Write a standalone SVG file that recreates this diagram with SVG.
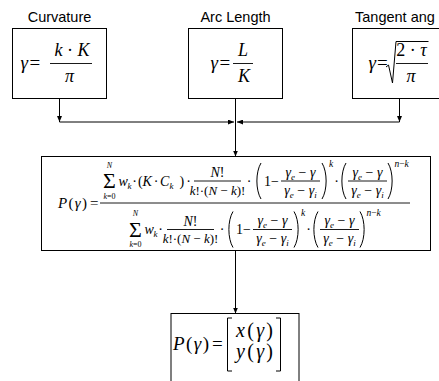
<svg xmlns="http://www.w3.org/2000/svg" width="439" height="381" viewBox="0 0 439 381">
<style>
.box{fill:#fff;stroke:#000;stroke-width:1}
.lbl{font-family:"Liberation Sans",Arial,sans-serif;font-size:14.5px;fill:#000}
.m{font-family:"Liberation Serif","DejaVu Serif",serif;font-style:italic;fill:#000}
.u{font-family:"Liberation Serif","DejaVu Serif",serif;font-style:normal;fill:#000}
.n{font-style:normal}
.bar{stroke:#000;stroke-width:0.9}
.dl{fill:none;stroke:#000;stroke-width:1}
.con{fill:none;stroke:#000;stroke-width:1}
</style>
<defs>
<marker id="arr" markerUnits="userSpaceOnUse" markerWidth="6" markerHeight="5" refX="6" refY="2.5" orient="auto">
<path d="M0,0 L6,2.5 L0,5 z" fill="#000"/>
</marker>
</defs>
<rect width="439" height="381" fill="#fff"/>

<g id="connectors">
<path class="con" d="M59.5,98.5 V122" marker-end="url(#arr)"/>
<path class="con" d="M59.5,122 H234" marker-end="url(#arr)"/>
<path class="con" d="M399.5,98.5 V122" marker-end="url(#arr)"/>
<path class="con" d="M399.5,122 H237" marker-end="url(#arr)"/>
<path class="con" d="M235.5,98.5 V156.5" marker-end="url(#arr)"/>
<path class="con" d="M235.5,250.5 V313.5" marker-end="url(#arr)"/>
</g>

<g id="curvature">
<text class="lbl" x="59.5" y="22" text-anchor="middle">Curvature</text>
<rect class="box" x="12.5" y="28.5" width="94" height="70"/>
<text class="m" x="20.5" y="68.5" font-size="19">γ</text>
<text class="u" x="29.5" y="68.5" font-size="19">=</text>
<text class="m" x="72" y="56" font-size="18" text-anchor="middle">k<tspan class="n"> · </tspan>K</text>
<line class="bar" x1="50" y1="63.5" x2="92" y2="63.5"/>
<text class="m" x="69.5" y="81.5" font-size="18" text-anchor="middle">π</text>
</g>

<g id="arclength">
<text class="lbl" x="235.5" y="22" text-anchor="middle">Arc Length</text>
<rect class="box" x="188.5" y="28.5" width="94" height="70"/>
<text class="m" x="210.5" y="68.5" font-size="19">γ</text>
<text class="u" x="219.5" y="68.5" font-size="19">=</text>
<text class="m" x="243" y="56" font-size="18" text-anchor="middle">L</text>
<line class="bar" x1="233" y1="63.5" x2="253" y2="63.5"/>
<text class="m" x="244" y="81.5" font-size="18" text-anchor="middle">K</text>
</g>

<g id="tangent">
<text class="lbl" x="355" y="22">Tangent ang</text>
<rect class="box" x="352.5" y="28.5" width="94" height="70"/>
<text class="m" x="368.5" y="68.5" font-size="19">γ</text>
<text class="u" x="377" y="68.5" font-size="19">=</text>
<path class="dl" d="M386,67 L388.5,65 L392.5,83 L396,41.5 H428.5" stroke-width="1.1"/>
<text class="m" x="411.5" y="56" font-size="18" text-anchor="middle"><tspan class="n">2 · </tspan>τ</text>
<line class="bar" x1="396" y1="63.5" x2="428" y2="63.5"/>
<text class="m" x="411" y="81.5" font-size="18" text-anchor="middle">π</text>
</g>

<g id="bernstein">
<rect class="box" x="41.5" y="156.5" width="389" height="94"/>
<text class="m" x="58" y="207.5" font-size="15" textLength="29" lengthAdjust="spacing">P<tspan class="n">(</tspan>γ<tspan class="n">)</tspan></text>
<text class="u" x="90" y="207.5" font-size="15">=</text>
<line class="bar" x1="100" y1="203" x2="410" y2="203"/>

<text class="u" x="109.5" y="188" font-size="22" text-anchor="middle">Σ</text>
<text class="m" x="109.5" y="167.5" font-size="8" text-anchor="middle">N</text>
<text class="m" x="109.5" y="198.5" font-size="8" text-anchor="middle">k<tspan class="n">=0</tspan></text>
<text class="m" x="118.5" y="185.5" font-size="14">w</text>
<text class="m" x="127.5" y="188.5" font-size="9">k</text>
<text class="u" x="134.5" y="185.5" font-size="14" text-anchor="middle">·</text>
<text class="u" x="138" y="185.5" font-size="14">(</text>
<text class="m" x="142.5" y="185.5" font-size="14">K</text>
<text class="u" x="156" y="185.5" font-size="14" text-anchor="middle">·</text>
<text class="m" x="160" y="185.5" font-size="14">C</text>
<text class="m" x="169.5" y="188.5" font-size="9">k</text>
<text class="u" x="179.5" y="185.5" font-size="14">)</text>
<text class="u" x="188.5" y="185.5" font-size="14" text-anchor="middle">·</text>
<text class="m" x="217.5" y="177" font-size="14" text-anchor="middle">N<tspan class="n">!</tspan></text>
<line class="bar" x1="194" y1="181" x2="241" y2="181"/>
<text class="m" x="217.5" y="194.5" font-size="13" text-anchor="middle">k<tspan class="n">!·(</tspan>N<tspan class="n"> − </tspan>k<tspan class="n">)!</tspan></text>
<text class="u" x="249" y="185.5" font-size="14" text-anchor="middle">·</text>
<path class="dl" d="M261,163 C255.5,172 255.5,190 261,199"/>
<text class="u" x="264" y="185.5" font-size="14">1</text>
<text class="u" x="271" y="185.5" font-size="14">−</text>
<text class="m" x="300.5" y="176.5" font-size="14" text-anchor="middle">γ<tspan font-size="9" dy="3">e</tspan><tspan class="n" dy="-3"> − </tspan>γ</text>
<line class="bar" x1="281" y1="181" x2="320" y2="181"/>
<text class="m" x="300.5" y="194.5" font-size="14" text-anchor="middle">γ<tspan font-size="9" dy="3">e</tspan><tspan class="n" dy="-3"> − </tspan>γ<tspan font-size="9" dy="3">i</tspan></text>
<path class="dl" d="M322,163 C327.5,172 327.5,190 322,199"/>
<text class="m" x="329" y="167" font-size="9.5">k</text>
<text class="u" x="336.5" y="185.5" font-size="14" text-anchor="middle">·</text>
<path class="dl" d="M346,163 C340.5,172 340.5,190 346,199"/>
<text class="m" x="367.5" y="176.5" font-size="14" text-anchor="middle">γ<tspan font-size="9" dy="3">e</tspan><tspan class="n" dy="-3"> − </tspan>γ</text>
<line class="bar" x1="348" y1="181" x2="387" y2="181"/>
<text class="m" x="367.5" y="194.5" font-size="14" text-anchor="middle">γ<tspan font-size="9" dy="3">e</tspan><tspan class="n" dy="-3"> − </tspan>γ<tspan font-size="9" dy="3">i</tspan></text>
<path class="dl" d="M388,163 C393.5,172 393.5,190 388,199"/>
<text class="m" x="394.5" y="167" font-size="9.5">n<tspan class="n">−</tspan>k</text>

<text class="u" x="135.5" y="236.5" font-size="22" text-anchor="middle">Σ</text>
<text class="m" x="135.5" y="216" font-size="8" text-anchor="middle">N</text>
<text class="m" x="135.5" y="247" font-size="8" text-anchor="middle">k<tspan class="n">=0</tspan></text>
<text class="m" x="144.5" y="234" font-size="14">w</text>
<text class="m" x="153.5" y="237" font-size="9">k</text>
<text class="u" x="160.5" y="234" font-size="14" text-anchor="middle">·</text>
<text class="m" x="190.5" y="225.5" font-size="14" text-anchor="middle">N<tspan class="n">!</tspan></text>
<line class="bar" x1="167" y1="229.5" x2="214" y2="229.5"/>
<text class="m" x="190.5" y="243" font-size="13" text-anchor="middle">k<tspan class="n">!·(</tspan>N<tspan class="n"> − </tspan>k<tspan class="n">)!</tspan></text>
<text class="u" x="222" y="234" font-size="14" text-anchor="middle">·</text>
<path class="dl" d="M233,211.5 C227.5,220.5 227.5,238.5 233,247.5"/>
<text class="u" x="236" y="234" font-size="14">1</text>
<text class="u" x="243" y="234" font-size="14">−</text>
<text class="m" x="272.5" y="225" font-size="14" text-anchor="middle">γ<tspan font-size="9" dy="3">e</tspan><tspan class="n" dy="-3"> − </tspan>γ</text>
<line class="bar" x1="253" y1="229.5" x2="292" y2="229.5"/>
<text class="m" x="272.5" y="243" font-size="14" text-anchor="middle">γ<tspan font-size="9" dy="3">e</tspan><tspan class="n" dy="-3"> − </tspan>γ<tspan font-size="9" dy="3">i</tspan></text>
<path class="dl" d="M294,211.5 C299.5,220.5 299.5,238.5 294,247.5"/>
<text class="m" x="301" y="215.5" font-size="9.5">k</text>
<text class="u" x="308.5" y="234" font-size="14" text-anchor="middle">·</text>
<path class="dl" d="M318,211.5 C312.5,220.5 312.5,238.5 318,247.5"/>
<text class="m" x="339.5" y="225" font-size="14" text-anchor="middle">γ<tspan font-size="9" dy="3">e</tspan><tspan class="n" dy="-3"> − </tspan>γ</text>
<line class="bar" x1="320" y1="229.5" x2="359" y2="229.5"/>
<text class="m" x="339.5" y="243" font-size="14" text-anchor="middle">γ<tspan font-size="9" dy="3">e</tspan><tspan class="n" dy="-3"> − </tspan>γ<tspan font-size="9" dy="3">i</tspan></text>
<path class="dl" d="M360,211.5 C365.5,220.5 365.5,238.5 360,247.5"/>
<text class="m" x="366.5" y="215.5" font-size="9.5">n<tspan class="n">−</tspan>k</text>
</g>

<g id="point">
<rect class="box" x="171" y="313.5" width="128" height="80"/>
<text class="m" x="173" y="349.5" font-size="19" textLength="36" lengthAdjust="spacing">P<tspan class="n">(</tspan>γ<tspan class="n">)</tspan></text>
<text class="u" x="212" y="349.5" font-size="19">=</text>
<path class="dl" d="M232,318 H227.5 V371 H232"/>
<text class="m" x="236" y="337" font-size="20" textLength="37" lengthAdjust="spacing">x<tspan class="n">(</tspan>γ<tspan class="n">)</tspan></text>
<text class="m" x="236" y="358" font-size="20" textLength="37" lengthAdjust="spacing">y<tspan class="n">(</tspan>γ<tspan class="n">)</tspan></text>
<path class="dl" d="M276,318 H280.5 V371 H276"/>
</g>
</svg>
